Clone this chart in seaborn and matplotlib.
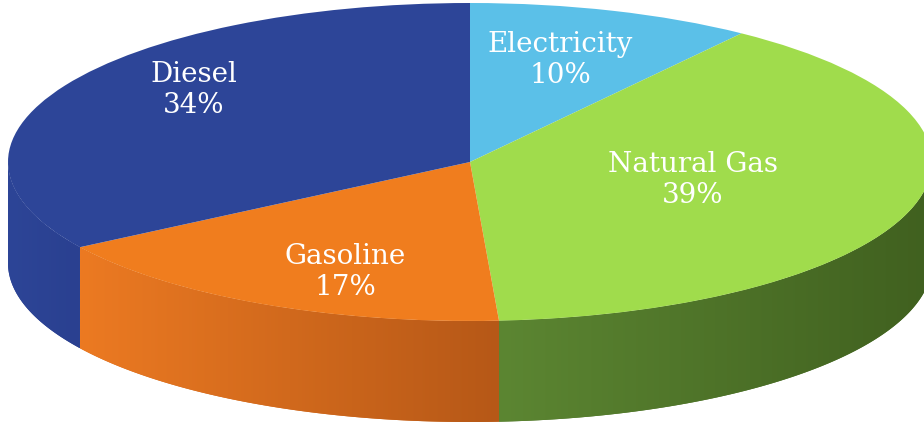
import numpy as np
import matplotlib
matplotlib.use("Agg")
import matplotlib.pyplot as plt
from matplotlib.patches import Polygon
from matplotlib.colors import to_rgb
import seaborn as sns

# ---- data ----
categories = ["Electricity", "Natural Gas", "Gasoline", "Diesel"]
shares = [10, 39, 17, 34]
pct_labels = ["10%", "39%", "17%", "34%"]

# ---- styles ----
top_colors = ["#5BC0E8", "#A0DC4C", "#F07D1E", "#2D4598"]
side_left = ["#4A9CC0", "#5C8632", "#EC7A22", "#2D4597"]
side_right = ["#3A86A8", "#40601F", "#B65817", "#2A4090"]

sns.set_theme(style="white")
plt.rcParams["font.family"] = ["DejaVu Serif", "DejaVu Sans"]

W, H = 924, 425
fig = plt.figure(figsize=(W / 100, H / 100), dpi=100)
ax = fig.add_axes([0, 0, 1, 1])

# ellipse geometry in pixels (layout)
CX, RX, CY, RY, DEPTH = 470, 462, 162, 159, 101
d = DEPTH / RY

wedges, _ = ax.pie(shares, colors=top_colors, startangle=90, counterclock=False,
                   radius=1, center=(0, 0),
                   wedgeprops=dict(linewidth=0, antialiased=True))
for w in wedges:
    w.set_zorder(3)

# side faces (front half of the cylinder)
for w, cl, cr in zip(wedges, side_left, side_right):
    t1, t2 = w.theta1, w.theta2
    lo, hi = max(t1, -180), min(t2, 0)
    if hi <= lo:
        continue
    t = np.radians(np.linspace(lo, hi, 300))
    top = np.column_stack([np.cos(t), np.sin(t)])
    bot = np.column_stack([np.cos(t), np.sin(t) - d])[::-1]
    pts = np.vstack([top, bot])
    xmin, xmax = pts[:, 0].min(), pts[:, 0].max()
    ymin, ymax = pts[:, 1].min(), pts[:, 1].max()
    c0, c1 = np.array(to_rgb(cl)), np.array(to_rgb(cr))
    frac = np.linspace(0, 1, 256)[None, :, None]
    img = np.repeat((1 - frac) * c0 + frac * c1, 2, axis=0)
    base = Polygon(pts, closed=True, facecolor=(c0 + c1) / 2, edgecolor="none",
                   zorder=1)
    ax.add_patch(base)
    im = ax.imshow(img, extent=[xmin, xmax, ymin, ymax], aspect="auto",
                   interpolation="bilinear", zorder=2)
    clip = Polygon(pts, closed=True, facecolor="none", edgecolor="none",
                   transform=ax.transData)
    im.set_clip_path(clip)

# labels (pixel positions -> data coords)
label_px = [(560, 60), (693, 180), (345, 272), (194, 90)]
for cat, pct, (px, py) in zip(categories, pct_labels, label_px):
    ax.text((px - CX) / RX, (CY - py) / RY, f"{cat}\n{pct}", ha="center",
            va="center", color="white", fontsize=20, linespacing=1.2, zorder=5)

ax.set_aspect("auto")
ax.set_xlim(-CX / RX, (W - CX) / RX)
ax.set_ylim((CY - H) / RY, CY / RY)
ax.axis("off")

fig.savefig("out.png", dpi=100)
